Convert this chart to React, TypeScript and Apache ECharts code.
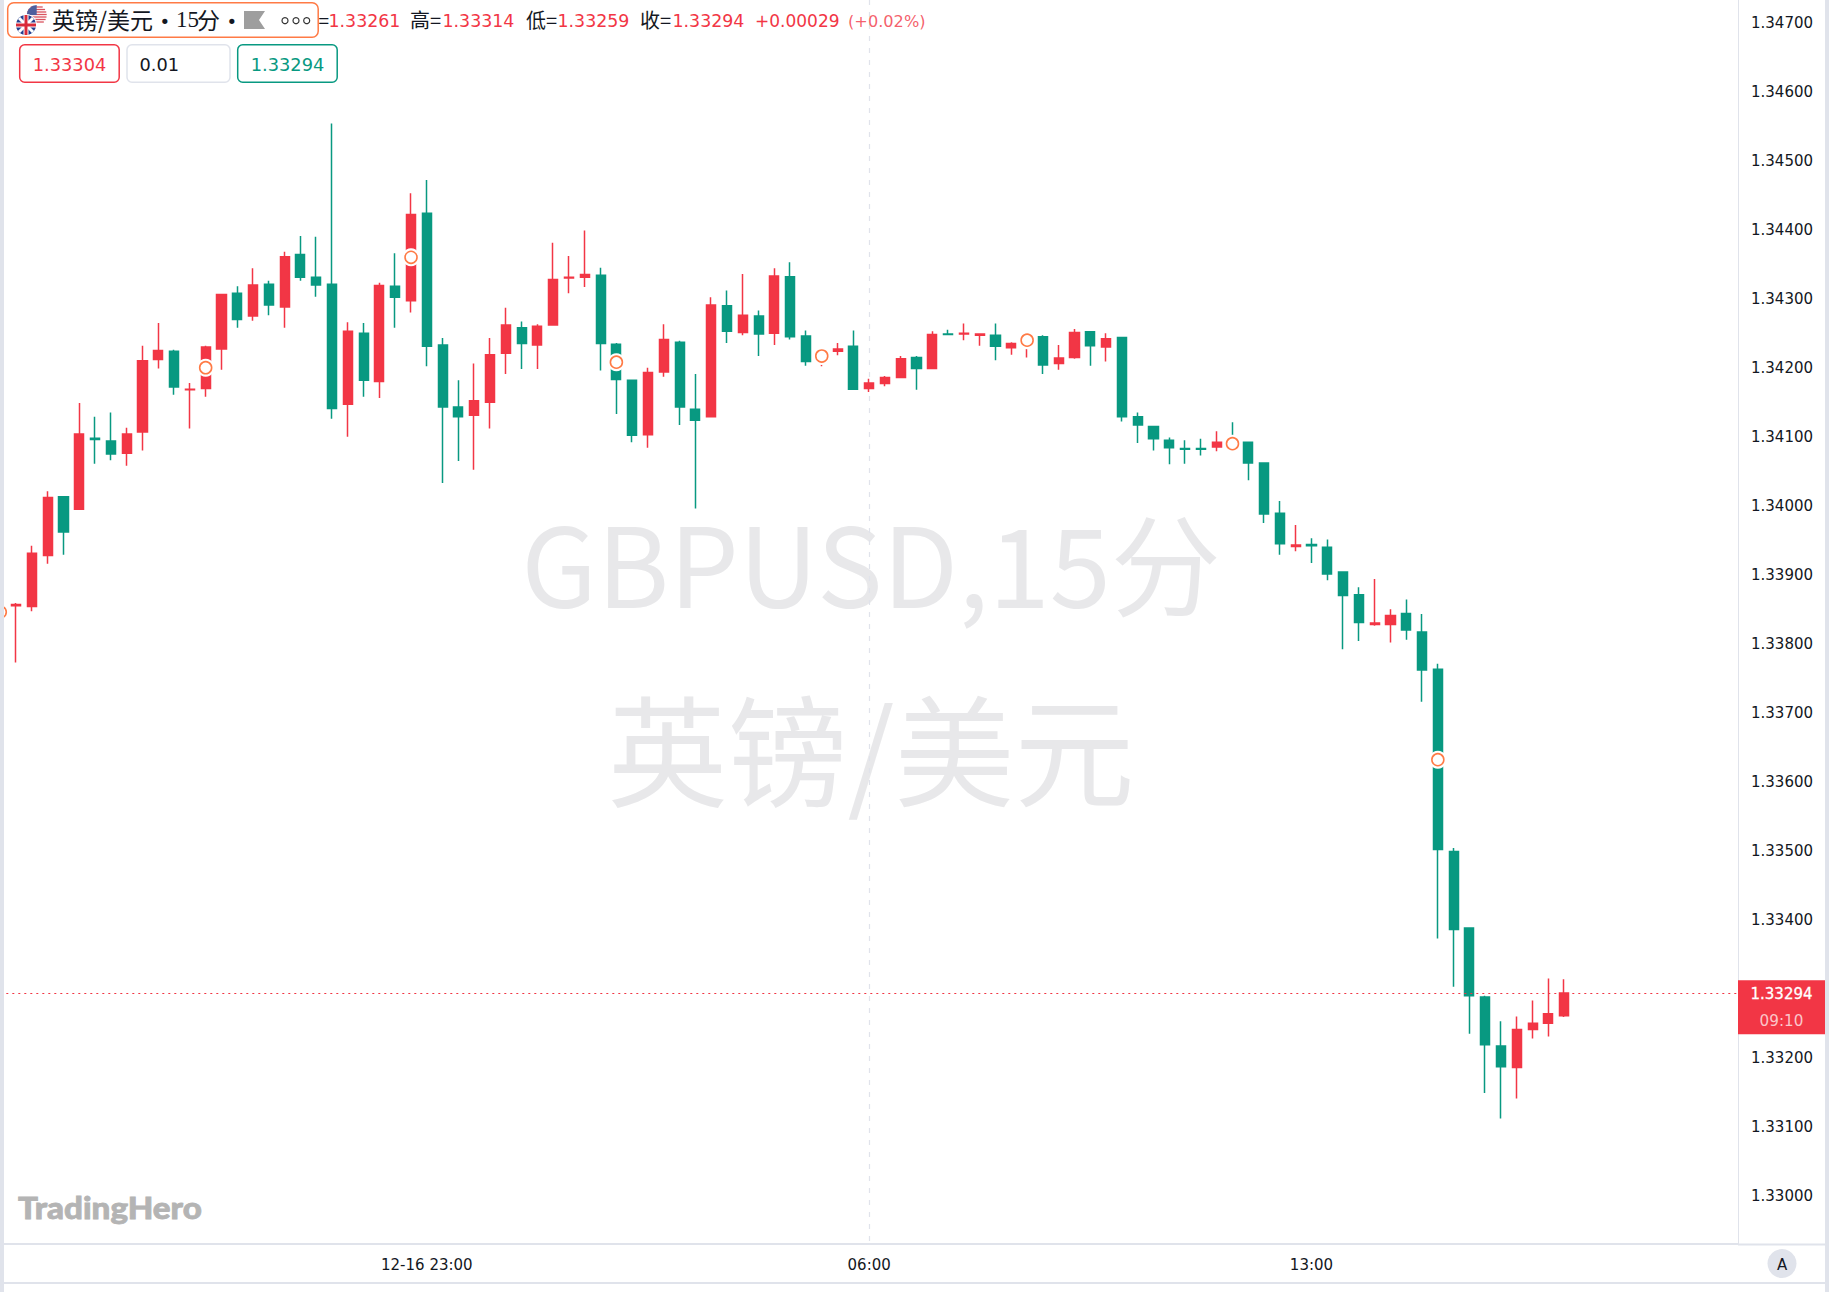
import React, { useEffect, useRef } from "react";
import * as echarts from "echarts";

const RED = "#F23645";
const GREEN = "#089981";
const LINE = "#E0E3EB";
const INK = "#131722";
const UI_FONT = "DejaVu Sans";
const CJK_FONT = "Noto Sans CJK SC";

const tickLabels: Record<number, string> = { 27: "12-16 23:00", 55: "06:00", 83: "13:00" };
const dashedIndex = 55;
const categoryCount = 111;
const categories = Array.from({ length: categoryCount }, (_, i) => tickLabels[i] ?? `bar-${i}`);
const priceTicks = [1.33, 1.331, 1.332, 1.334, 1.335, 1.336, 1.337, 1.338, 1.339, 1.34, 1.341, 1.342, 1.343, 1.344, 1.345, 1.346, 1.347];
const lastPrice = 1.33294;

const opens = [
  1.33855, 1.33854, 1.33928, 1.34013, 1.33995, 1.34098, 1.34094, 1.34076, 1.34107, 1.34212,
  1.34224, 1.34168, 1.3417, 1.34227, 1.34308, 1.34275, 1.34321, 1.34288, 1.34364, 1.34331,
  1.34321, 1.34147, 1.3425, 1.3418, 1.34318, 1.34297, 1.34424, 1.34233, 1.34143, 1.34131,
  1.3415, 1.34221, 1.34258, 1.34233, 1.34262, 1.3433, 1.34331, 1.34334, 1.34234, 1.34182,
  1.34103, 1.34194, 1.34237, 1.3414, 1.34129, 1.3429, 1.34251, 1.34275, 1.3425, 1.34332,
  1.34246, 1.34215, 1.34224, 1.34231, 1.3417, 1.34177, 1.34186, 1.34215, 1.34199, 1.34249,
  1.34249, 1.34247, 1.34247, 1.34229, 1.34237, 1.34245, 1.34206, 1.34215, 1.34252, 1.3423,
  1.34244, 1.34129, 1.34115, 1.34095, 1.34083, 1.34083, 1.34085, 1.34093, 1.34092, 1.34062,
  1.33989, 1.33941, 1.33944, 1.3394, 1.33904, 1.33871, 1.33828, 1.33828, 1.33844, 1.33817,
  1.33763, 1.33499, 1.33388, 1.33288, 1.33217, 1.33186, 1.33241, 1.3325, 1.33261,
];
const closes = [
  1.33857, 1.33931, 1.34012, 1.33962, 1.34104, 1.34096, 1.34075, 1.34104, 1.3421, 1.34225,
  1.34172, 1.34169, 1.3423, 1.34306, 1.3427, 1.3432, 1.34291, 1.34361, 1.34331, 1.3432,
  1.34141, 1.34253, 1.34182, 1.34319, 1.34302, 1.34422, 1.34231, 1.34143, 1.34129, 1.34152,
  1.34219, 1.34262, 1.34235, 1.3426, 1.34328, 1.34331, 1.34335, 1.34235, 1.34183, 1.34102,
  1.34193, 1.34241, 1.34143, 1.34124, 1.34291, 1.34253, 1.34276, 1.34249, 1.34333, 1.34245,
  1.34209, 1.34219, 1.34227, 1.34169, 1.34178, 1.34186, 1.34213, 1.34199, 1.34248, 1.34248,
  1.3425, 1.34249, 1.34231, 1.34235, 1.34244, 1.34204, 1.34214, 1.34251, 1.34232, 1.34242,
  1.34129, 1.34117, 1.34097, 1.34084, 1.34082, 1.34082, 1.34092, 1.34087, 1.34062, 1.33988,
  1.33945, 1.33943, 1.33942, 1.33901, 1.3387, 1.33831, 1.3383, 1.33841, 1.3382, 1.33762,
  1.33502, 1.33386, 1.3329, 1.33219, 1.33187, 1.33241, 1.3325, 1.33264, 1.33294,
];
const lows = [
  1.33773, 1.33847, 1.33916, 1.33929, 1.33995, 1.34061, 1.34066, 1.34058, 1.3408, 1.34199,
  1.34161, 1.34112, 1.34158, 1.34197, 1.34258, 1.34268, 1.34276, 1.34258, 1.34326, 1.34303,
  1.34126, 1.341, 1.34158, 1.34156, 1.34258, 1.3428, 1.34202, 1.34033, 1.34065, 1.34052,
  1.34112, 1.34191, 1.34198, 1.34198, 1.34262, 1.34308, 1.34317, 1.34196, 1.34133, 1.34092,
  1.34084, 1.34187, 1.34117, 1.33996, 1.34129, 1.34236, 1.34247, 1.34217, 1.34233, 1.34241,
  1.34203, 1.34202, 1.34218, 1.34169, 1.34165, 1.34173, 1.34186, 1.34168, 1.34199, 1.34247,
  1.3424, 1.34232, 1.34211, 1.34219, 1.34215, 1.34191, 1.34197, 1.34213, 1.34203, 1.34209,
  1.34122, 1.34091, 1.3408, 1.3406, 1.34061, 1.34073, 1.34079, 1.34081, 1.34037, 1.33975,
  1.33929, 1.33934, 1.33917, 1.33892, 1.33792, 1.33804, 1.33826, 1.33802, 1.33806, 1.33716,
  1.33373, 1.33303, 1.33235, 1.33149, 1.33112, 1.33141, 1.33228, 1.33231, 1.33259,
];
const highs = [
  1.33859, 1.33942, 1.34021, 1.34014, 1.34149, 1.34129, 1.34135, 1.34113, 1.34232, 1.34265,
  1.34226, 1.34178, 1.34232, 1.34307, 1.34318, 1.34344, 1.34326, 1.34368, 1.34391, 1.3439,
  1.34554, 1.34266, 1.34265, 1.34323, 1.34366, 1.34453, 1.34472, 1.34243, 1.34182, 1.34206,
  1.34243, 1.34287, 1.34267, 1.34263, 1.34381, 1.34362, 1.34399, 1.34345, 1.34236, 1.34183,
  1.342, 1.34263, 1.34239, 1.34191, 1.34302, 1.34312, 1.34336, 1.34283, 1.34344, 1.34353,
  1.34254, 1.34226, 1.34236, 1.34254, 1.34184, 1.34188, 1.34217, 1.34217, 1.34253, 1.34255,
  1.34264, 1.3425, 1.34264, 1.34237, 1.3425, 1.34247, 1.34233, 1.34256, 1.34253, 1.3425,
  1.34245, 1.34135, 1.34116, 1.34099, 1.34095, 1.34097, 1.34108, 1.34121, 1.34093, 1.34063,
  1.34007, 1.33972, 1.33953, 1.33951, 1.33905, 1.33882, 1.33894, 1.3385, 1.33864, 1.33843,
  1.33771, 1.33504, 1.33389, 1.3329, 1.33253, 1.3326, 1.33283, 1.33315, 1.33314,
];
const markerIndex = [0, 13, 26, 39, 52, 65, 78, 91];
const markerPrice = [1.33846, 1.342, 1.3436, 1.34208, 1.34217, 1.3424, 1.3409, 1.33632];

function flagElements(): any[] {
  const us = { x: 36.7, y: 15, r: 10 };
  const uk = { x: 26, y: 25, r: 10 };
  const els: any[] = [{ type: "circle", shape: { cx: us.x, cy: us.y, r: us.r }, style: { fill: "#fff" } }];
  [-8, -5.5, -3, -0.5, 2, 4.5, 7].forEach((d) => {
    const half = Math.sqrt(us.r * us.r - d * d);
    els.push({ type: "line", shape: { x1: us.x - half, y1: us.y + d, x2: us.x + half, y2: us.y + d }, style: { stroke: "#D9535E", lineWidth: 1.3 } });
  });
  els.push({ type: "sector", shape: { cx: us.x, cy: us.y, r: us.r, r0: 0, startAngle: Math.PI, endAngle: Math.PI * 1.5 }, style: { fill: "#4E5F9E" } });
  els.push({ type: "circle", shape: { cx: uk.x, cy: uk.y, r: uk.r + 1 }, style: { fill: "#fff" } });
  els.push({ type: "circle", shape: { cx: uk.x, cy: uk.y, r: uk.r }, style: { fill: "#25408F" } });
  const q = uk.r * 0.7;
  [[-q, -q, q, q], [-q, q, q, -q]].forEach(([a, b, c, d]) => {
    els.push({ type: "line", shape: { x1: uk.x + a, y1: uk.y + b, x2: uk.x + c, y2: uk.y + d }, style: { stroke: "#fff", lineWidth: 3 } });
  });
  [[-uk.r, 0, uk.r, 0], [0, -uk.r, 0, uk.r]].forEach(([a, b, c, d]) => {
    els.push({ type: "line", shape: { x1: uk.x + a, y1: uk.y + b, x2: uk.x + c, y2: uk.y + d }, style: { stroke: "#fff", lineWidth: 5 } });
  });
  [[-uk.r, 0, uk.r, 0], [0, -uk.r, 0, uk.r]].forEach(([a, b, c, d]) => {
    els.push({ type: "line", shape: { x1: uk.x + a, y1: uk.y + b, x2: uk.x + c, y2: uk.y + d }, style: { stroke: "#D92B3A", lineWidth: 3 } });
  });
  return els;
}

function label(text: string, x: number, y: number, fill: string, fontSize: number, fontFamily: string, extra: any = {}, el: any = {}) {
  return {
    type: "text",
    x,
    y,
    z: 100,
    ...el,
    style: { text, fill, fontSize, fontFamily, align: "left", verticalAlign: "middle", ...extra },
  };
}

function overlays(): any[] {
  const z = 100;
  const rect = (x: number, y: number, width: number, height: number, fill: string, r = 0, stroke?: string, lineWidth = 0) => ({
    type: "rect",
    z,
    shape: { x, y, width, height, r },
    style: { fill, stroke, lineWidth },
  });
  const head = 21.2;
  const cjk = 19.2;
  const els: any[] = [
    { type: "text", x: 871, y: 560, z: 0, style: { text: "GBPUSD,15分", fill: "#E8E8EA", fontSize: 110, fontFamily: CJK_FONT, align: "center", verticalAlign: "middle" } },
    { type: "text", x: 871, y: 746, z: 0, style: { text: "英镑/美元", fill: "#E8E8EA", fontSize: 120, fontFamily: CJK_FONT, align: "center", verticalAlign: "middle" } },

    rect(0, 0, 4, 1292, LINE),
    rect(1825, 0, 4, 1292, LINE),
    rect(1738, 1243.5, 87, 2, LINE),
    rect(4, 1282, 1821, 2, LINE),

    rect(7.7, 2.7, 310.5, 34.5, "#fff", 6, "#FF7A45", 1.5),
    ...flagElements().map((e) => ({ ...e, z: 101 })),
    label("英镑/美元", 52, cjk, INK, 23, CJK_FONT),
    label("•", 159.5, head, INK, 18, UI_FONT),
    label("15", 176, cjk, INK, 23, "Liberation Sans Narrow"),
    label("分", 197, cjk, INK, 23, CJK_FONT),
    label("•", 226.5, head, INK, 18, UI_FONT),
    { type: "polygon", z, shape: { points: [[244, 11], [265, 11], [259, 20], [265, 29], [244, 29]] }, style: { fill: "#9E9E9E" } },
    ...[285, 296, 306.7].map((cx) => ({ type: "circle", z, shape: { cx, cy: 20.7, r: 3 }, style: { fill: "#fff", stroke: "#333", lineWidth: 1.2 } })),

    label("=", 318.5, cjk, INK, 19, CJK_FONT),
    label("1.33261", 328.5, head, RED, 17.4, UI_FONT),
    label("高=", 410, cjk, INK, 20, CJK_FONT),
    label("1.33314", 442.5, head, RED, 17.4, UI_FONT),
    label("低=", 526, cjk, INK, 20, CJK_FONT),
    label("1.33259", 557.5, head, RED, 17.4, UI_FONT),
    label("收=", 640, cjk, INK, 20, CJK_FONT),
    label("1.33294", 672.5, head, RED, 17.4, UI_FONT),
    label("+0.00029", 755, head, RED, 17, UI_FONT),
    label("(+0.02%)", 848, head, RED, 16.2, UI_FONT, { opacity: 0.8 }),

    rect(19.7, 44.7, 99.5, 37.5, "#fff", 5, RED, 1.5),
    label("1.33304", 69.5, 64.8, RED, 17.8, UI_FONT, { align: "center" }),
    rect(127, 44.7, 103, 37.5, "#fff", 5, LINE, 1.5),
    label("0.01", 139.5, 64.8, INK, 17.8, UI_FONT),
    rect(237.7, 44.7, 99.5, 37.5, "#fff", 5, GREEN, 1.5),
    label("1.33294", 287.5, 64.8, GREEN, 17.8, UI_FONT, { align: "center" }),

    rect(1738, 980.3, 87, 54, RED),
    label("1.33294", 1781.5, 994, "#fff", 15, UI_FONT, { align: "center", fontWeight: 500, stroke: "#fff", lineWidth: 0.3 }),
    label("09:10", 1781.5, 1020.7, "rgba(255,255,255,0.72)", 15.2, UI_FONT, { align: "center" }),

    { type: "circle", z, shape: { cx: 1782, cy: 1263.5, r: 14.5 }, style: { fill: LINE } },
    label("A", 1782, 1264.5, INK, 15, UI_FONT, { align: "center" }),

    label("TradingHero", 18, 1208, "#B4B4B4", 30, "Lato", { fontWeight: 900, stroke: "#B4B4B4", lineWidth: 0.8 }, { scaleX: 1.105 }),
  ];
  return els;
}

export default function App() {
  const ref = useRef<HTMLDivElement>(null);
  useEffect(() => {
    document.body.style.margin = "0";
    const chart = echarts.init(ref.current!, undefined, { renderer: "svg" });
    const candleData: any[] = ["-"];
    opens.forEach((o, i) => candleData.push([o, closes[i], lows[i], highs[i]]));
    const markers = markerIndex.map((x, i) => [x, markerPrice[i]]);
    chart.setOption({
      animation: false,
      backgroundColor: "#fff",
      grid: { left: 0.3, top: 0, width: 1737.7, height: 1244, containLabel: false },
      xAxis: {
        type: "category",
        data: categories,
        boundaryGap: false,
        axisLine: { lineStyle: { color: LINE, width: 2 } },
        axisTick: { show: false },
        axisLabel: {
          interval: (i: number) => tickLabels[i] !== undefined,
          color: INK,
          fontFamily: UI_FONT,
          fontSize: 15,
          margin: 13,
          hideOverlap: false,
        },
        splitLine: {
          show: true,
          interval: (i: number) => i === dashedIndex,
          lineStyle: { color: LINE, width: 1.2, type: [5, 7] },
        },
      },
      yAxis: {
        type: "value",
        position: "right",
        min: 1.329302,
        max: 1.347329,
        axisLine: { show: true, lineStyle: { color: LINE, width: 1 } },
        axisTick: { show: false },
        splitLine: { show: false },
        axisLabel: {
          customValues: priceTicks,
          formatter: (v: number) => v.toFixed(5),
          color: INK,
          fontFamily: UI_FONT,
          fontSize: 15,
          margin: 13,
          padding: [2, 0, 0, 0],
        },
      },
      series: [
        {
          type: "candlestick",
          data: candleData,
          barWidth: 9.6,
          z: 2,
          itemStyle: { color: RED, color0: GREEN, borderColor: RED, borderColor0: GREEN, borderWidth: 1.5 },
          markLine: {
            silent: true,
            symbol: "none",
            precision: 5,
            label: { show: false },
            lineStyle: { color: RED, width: 1, type: [2, 4] },
            data: [{ yAxis: lastPrice }],
          },
        },
        {
          type: "scatter",
          data: markers,
          symbol: "circle",
          symbolSize: 18,
          z: 3,
          itemStyle: { color: "#fff", opacity: 1 },
        },
        {
          type: "scatter",
          data: markers,
          symbol: "circle",
          symbolSize: 12,
          z: 4,
          itemStyle: { color: "#fff", borderColor: "#FF7A45", borderWidth: 1.6, opacity: 1 },
        },
      ],
      graphic: { elements: overlays() },
    });
    return () => chart.dispose();
  }, []);
  return <div ref={ref} style={{ width: 1829, height: 1292 }} />;
}
